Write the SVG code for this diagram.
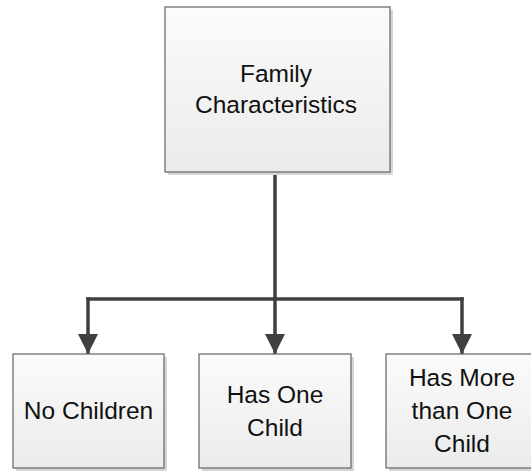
<svg xmlns="http://www.w3.org/2000/svg" width="531" height="471" viewBox="0 0 531 471">
  <defs>
    <linearGradient id="boxFill" x1="0" y1="0" x2="0" y2="1">
      <stop offset="0" stop-color="#fbfbfb"/>
      <stop offset="1" stop-color="#ebebeb"/>
    </linearGradient>
    <marker id="arrow" viewBox="0 0 20 20" refX="20" refY="10" markerWidth="20" markerHeight="20" markerUnits="userSpaceOnUse" orient="auto">
      <path d="M0,0 L20,10 L0,20 Z" fill="#404040"/>
    </marker>
  </defs>
  <style>
    .shadow { fill: #d6d6d6; }
    .box { fill: url(#boxFill); stroke: #6e6e6e; stroke-width: 1.3; }
    .label { font-family: "Liberation Sans", Arial, sans-serif; font-size: 24.5px; fill: #111; text-anchor: middle; }
    .conn { fill: none; stroke: #404040; stroke-width: 3.5; }
  </style>
  <rect width="531" height="471" fill="#ffffff"/>

  <g id="connectors">
    <line class="conn" x1="275" y1="172" x2="275" y2="299"/>
    <line class="conn" x1="86.25" y1="299" x2="463.75" y2="299"/>
    <path class="conn" d="M88,297.25 L88,354" marker-end="url(#arrow)"/>
    <path class="conn" d="M275,297 L275,354" marker-end="url(#arrow)"/>
    <path class="conn" d="M462,297.25 L462,354" marker-end="url(#arrow)"/>
  </g>

  <g id="family-characteristics">
    <rect class="shadow" x="168" y="10" width="225" height="165"/>
    <rect class="box" x="165" y="7" width="225" height="165"/>
    <text class="label" x="276" y="82">Family</text>
    <text class="label" x="276" y="113">Characteristics</text>
  </g>

  <g id="no-children">
    <rect class="shadow" x="16" y="357" width="151" height="114"/>
    <rect class="box" x="13" y="354" width="151" height="114"/>
    <text class="label" x="88.5" y="419">No Children</text>
  </g>

  <g id="has-one-child">
    <rect class="shadow" x="202" y="357" width="152" height="114"/>
    <rect class="box" x="199" y="354" width="152" height="114"/>
    <text class="label" x="275" y="403">Has One</text>
    <text class="label" x="275" y="436">Child</text>
  </g>

  <g id="has-more-than-one-child">
    <rect class="shadow" x="389" y="357" width="152" height="114"/>
    <rect class="box" x="386" y="354" width="152" height="114"/>
    <text class="label" x="462" y="386">Has More</text>
    <text class="label" x="462" y="419">than One</text>
    <text class="label" x="462" y="452">Child</text>
  </g>
</svg>
